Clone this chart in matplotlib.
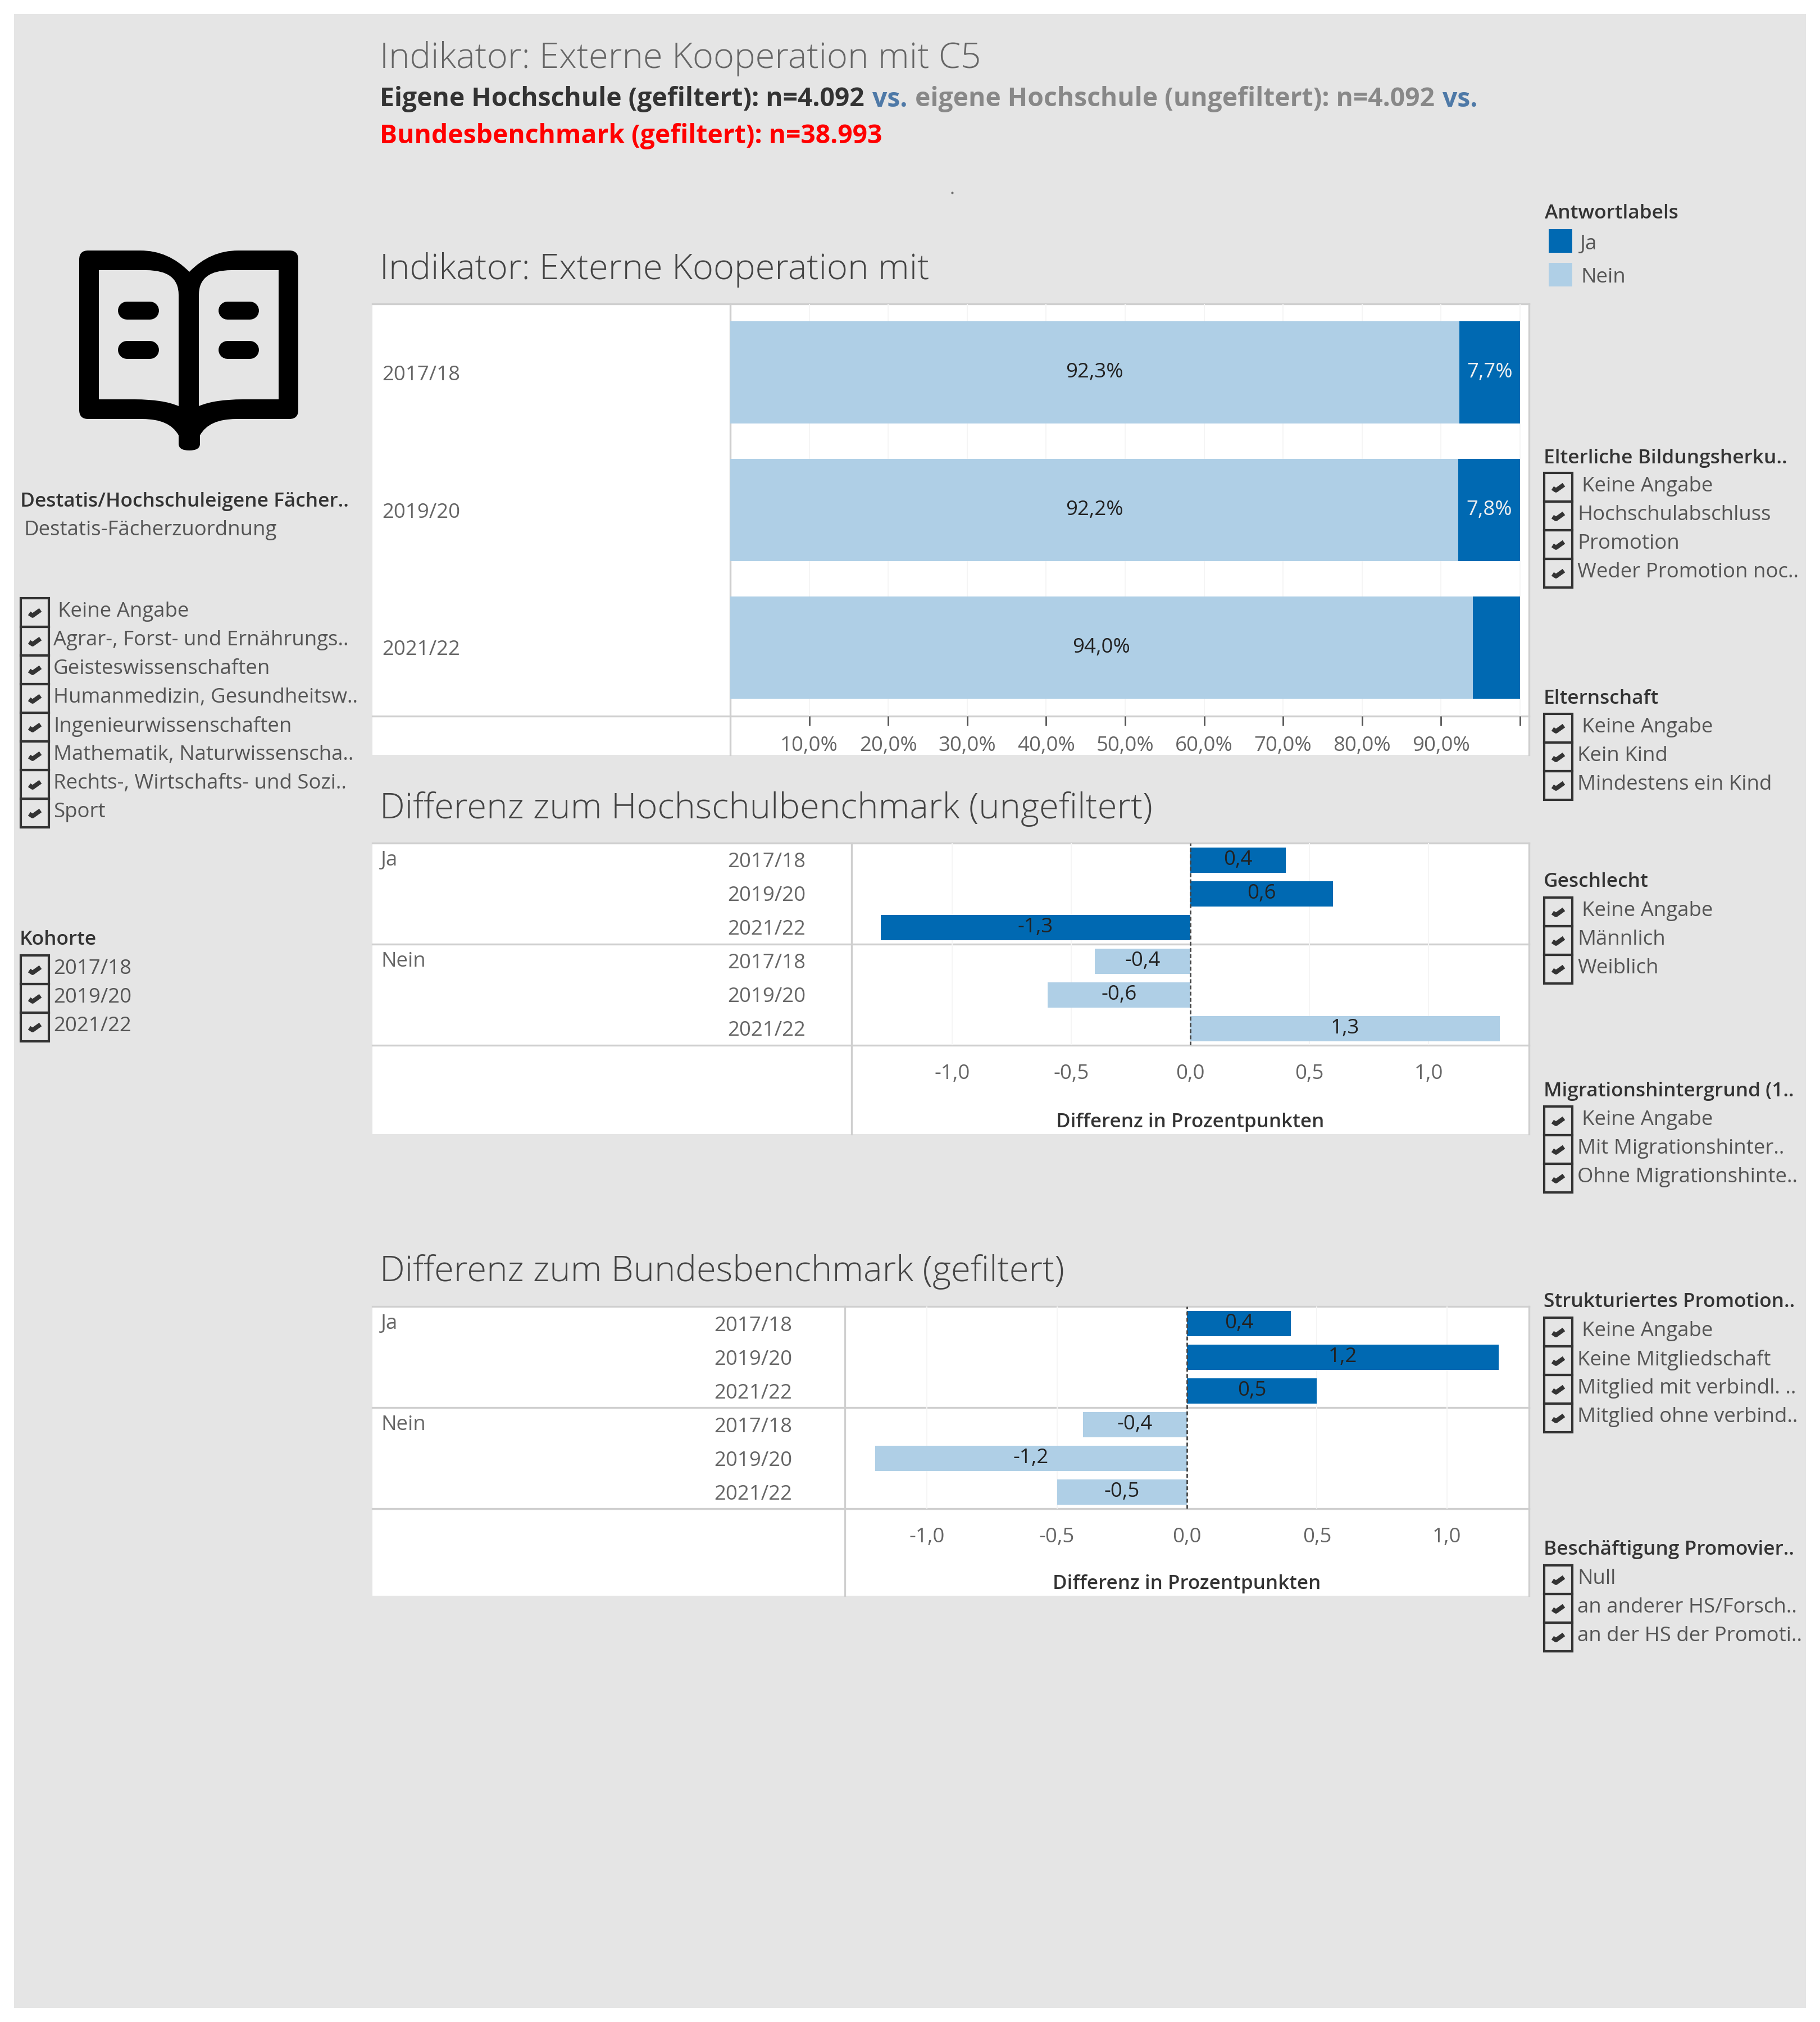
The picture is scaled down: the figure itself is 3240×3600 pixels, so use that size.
import matplotlib
matplotlib.use("Agg")
import matplotlib.pyplot as plt
from matplotlib.patches import Rectangle, PathPatch
from matplotlib.path import Path

W, H = 3240, 3600
plt.rcParams['font.family'] = ['Open Sans', 'DejaVu Sans']

# colours
BG = '#e5e5e5'
DARK = '#0069b2'
LIGHT = '#afcfe6'
LINE = '#cfcfcf'
TXT = '#666666'
FS = 13.2
FS_HEAD = 12.7

# data
years = ['2017/18', '2019/20', '2021/22']
nein = [92.3, 92.2, 94.0]
ja = [7.7, 7.8, 6.0]
nein_labels = ['92,3%', '92,2%', '94,0%']
ja_labels = ['7,7%', '7,8%', '']
pct_ticks = [10, 20, 30, 40, 50, 60, 70, 80, 90, 100]
pct_labels = ['10,0%', '20,0%', '30,0%', '40,0%', '50,0%', '60,0%', '70,0%', '80,0%', '90,0%', '']

answers = ['Ja', 'Nein']
diff_hs_ja = [0.4, 0.6, -1.3]
diff_hs_nein = [-0.4, -0.6, 1.3]
diff_bund_ja = [0.4, 1.2, 0.5]
diff_bund_nein = [-0.4, -1.2, -0.5]
diff_ticks = [-1.0, -0.5, 0.0, 0.5, 1.0]
diff_labels = ['-1,0', '-0,5', '0,0', '0,5', '1,0']

subjects = ['Keine Angabe', 'Agrar-, Forst- und Ernährungs..', 'Geisteswissenschaften',
            'Humanmedizin, Gesundheitsw..', 'Ingenieurwissenschaften',
            'Mathematik, Naturwissenscha..', 'Rechts-, Wirtschafts- und Sozi..', 'Sport']
herkunft = ['Keine Angabe', 'Hochschulabschluss', 'Promotion', 'Weder Promotion noc..']
elternschaft = ['Keine Angabe', 'Kein Kind', 'Mindestens ein Kind']
geschlecht = ['Keine Angabe', 'Männlich', 'Weiblich']
migration = ['Keine Angabe', 'Mit Migrationshinter..', 'Ohne Migrationshinte..']
struktur = ['Keine Angabe', 'Keine Mitgliedschaft', 'Mitglied mit verbindl. ..', 'Mitglied ohne verbind..']
beschaeftigung = ['Null', 'an anderer HS/Forsch..', 'an der HS der Promoti..']


def add_px_axes(fig, left, top, right, bottom):
    return fig.add_axes([left / W, 1 - bottom / H, (right - left) / W, (bottom - top) / H])


fig = plt.figure(figsize=(W / 200, H / 200), dpi=200, facecolor='white')
bg = fig.add_axes([0, 0, 1, 1])
bg.set_xlim(0, W)
bg.set_ylim(H, 0)
bg.axis('off')
bg.add_patch(Rectangle((25, 25), 3190, 3550, fc=BG, ec='none'))


def label(x, y, s, size=FS, color=TXT, weight='normal', **kw):
    # small downward nudge, Open Sans sits a bit high with va=center
    return bg.text(x - 2, y + 3, s, fontsize=size, color=color, fontweight=weight, va='center', ha=kw.pop('ha', 'left'), **kw)


def filter_list(x_box, x_text, x_first, y_top, items, header=None, y_header=None, x_header=None):
    if header:
        label(x_header, y_header, header, size=FS_HEAD, color='#333333', weight='semibold')
    for i, item in enumerate(items):
        y = y_top + i * 51
        bg.add_patch(Rectangle((x_box, y), 50, 51, fc='none', ec='#333333', lw=1.5))
        cx, cy = x_box + 25, y + 26
        bg.plot([cx - 10, cx - 4, cx + 10], [cy + 1, cy + 5, cy - 5], color='#333333', lw=2.8, solid_capstyle='butt')
        tx = x_first if item == 'Keine Angabe' else x_text
        label(tx, y + 21, item, color='#555555')


def draw_panel(left, top, axis_y, bottom, plot_left, panel_right=2722):
    bg.add_patch(Rectangle((left, top), panel_right - left, bottom - top, fc='white', ec='none'))
    for y in [top, axis_y]:
        bg.plot([left, panel_right], [y, y], color=LINE, lw=1.2)
    bg.plot([plot_left, plot_left], [top, bottom], color=LINE, lw=1.2)
    bg.plot([panel_right, panel_right], [top, bottom], color=LINE, lw=1.2)


# headline with mixed colours
label(678, 102, 'Indikator: Externe Kooperation mit C5', size=22.8, color='#666666', weight='light')
x = 678
for s, c in [('Eigene Hochschule (gefiltert): n=4.092', '#333333'), ('vs.', '#4e79a7'),
             ('eigene Hochschule (ungefiltert): n=4.092', '#888888'), ('vs.', '#4e79a7')]:
    t = label(x, 174, s, size=16.65, color=c, weight='bold')
    fig.canvas.draw()
    bb = t.get_window_extent()
    x += bb.width + 14
label(678, 240, 'Bundesbenchmark (gefiltert): n=38.993', size=16.65, color='#ff0000', weight='bold')
bg.plot([1695], [343], marker='.', ms=1, color='#666666')

label(678, 477, 'Indikator: Externe Kooperation mit', size=22.8, color='#444444', weight='light')
label(678, 1438, 'Differenz zum Hochschulbenchmark (ungefiltert)', size=22.8, color='#444444', weight='light')
label(678, 2262, 'Differenz zum Bundesbenchmark (gefiltert)', size=22.8, color='#444444', weight='light')

# book icon
verts = [(141, 462), (141, 446), (157, 446), (250, 446), (300, 446), (337, 484),
         (374, 446), (424, 446), (515, 446), (531, 446), (531, 462), (531, 730), (531, 746), (515, 746),
         (420, 746), (372, 746), (356, 775), (356, 790), (356, 802), (337, 802), (318, 802), (318, 790), (318, 775), (302, 746), (254, 746),
         (157, 746), (141, 746), (141, 730), (141, 462)]
codes = [Path.MOVETO, Path.CURVE3, Path.CURVE3, Path.LINETO, Path.CURVE3, Path.CURVE3,
         Path.CURVE3, Path.CURVE3, Path.LINETO, Path.CURVE3, Path.CURVE3, Path.LINETO, Path.CURVE3, Path.CURVE3,
         Path.LINETO, Path.CURVE3, Path.CURVE3, Path.LINETO, Path.CURVE3, Path.CURVE3, Path.CURVE3, Path.CURVE3, Path.LINETO, Path.CURVE3, Path.CURVE3,
         Path.LINETO, Path.CURVE3, Path.CURVE3, Path.CLOSEPOLY]
bg.add_patch(PathPatch(Path(verts, codes), fc='black', ec='none'))
left_page = [(176, 481), (260, 481), (318, 481), (318, 525), (318, 723), (290, 711), (240, 711), (176, 711), (176, 481)]
right_page = [(354, 525), (354, 481), (412, 481), (496, 481), (496, 711), (432, 711), (382, 711), (354, 723), (354, 525)]
page_codes_l = [Path.MOVETO, Path.LINETO, Path.CURVE3, Path.CURVE3, Path.LINETO, Path.CURVE3, Path.CURVE3, Path.LINETO, Path.CLOSEPOLY]
page_codes_r = [Path.MOVETO, Path.CURVE3, Path.CURVE3, Path.LINETO, Path.LINETO, Path.LINETO, Path.CURVE3, Path.CURVE3, Path.CLOSEPOLY]
bg.add_patch(PathPatch(Path(left_page, page_codes_l), fc=BG, ec='none'))
bg.add_patch(PathPatch(Path(right_page, page_codes_r), fc=BG, ec='none'))
for px0, px1 in [(226, 267), (405, 445)]:
    for py in [553, 623]:
        bg.plot([px0, px1], [py, py], color='black', lw=11.5, solid_capstyle='round')

# left filters
label(38, 890, 'Destatis/Hochschuleigene Fächer..', size=FS_HEAD, color='#333333', weight='semibold')
label(44, 941, 'Destatis-Fächerzuordnung', color='#555555')
filter_list(37, 97, 105, 1065, subjects)
filter_list(37, 97, 105, 1701, years, 'Kohorte', 1670, 37)

# legend and right filters
label(2752, 377, 'Antwortlabels', size=FS_HEAD, color='#333333', weight='semibold')
bg.add_patch(Rectangle((2757, 408), 42, 42, fc=DARK, ec='none'))
bg.add_patch(Rectangle((2757, 468), 42, 42, fc=LIGHT, ec='none'))
label(2815, 432, answers[0], color='#555555')
label(2816, 491, answers[1], color='#555555')
filter_list(2749, 2810, 2818, 842, herkunft, 'Elterliche Bildungsherku..', 813, 2750)
filter_list(2749, 2810, 2818, 1271, elternschaft, 'Elternschaft', 1241, 2750)
filter_list(2749, 2810, 2818, 1598, geschlecht, 'Geschlecht', 1567, 2750)
filter_list(2749, 2810, 2818, 1970, migration, 'Migrationshintergrund (1..', 1940, 2750)
filter_list(2749, 2810, 2818, 2346, struktur, 'Strukturiertes Promotion..', 2315, 2750)
filter_list(2749, 2810, 2818, 2787, beschaeftigung, 'Beschäftigung Promovier..', 2756, 2750)

# panel 1, stacked bars
draw_panel(663, 541, 1275, 1344, 1300)
ax = add_px_axes(fig, 1300, 541, 2722, 1275)
ax.patch.set_alpha(0)
ypos = list(range(len(years)))
ax.barh(ypos, nein, height=0.744, color=LIGHT)
ax.barh(ypos, ja, left=nein, height=0.744, color=DARK)
ax.set_xlim(0, 101.14)
ax.set_ylim(2.5, -0.5)
ax.set_xticks(pct_ticks, pct_labels, fontsize=FS, color=TXT)
ax.set_yticks(ypos, years, fontsize=FS, color=TXT, ha='left')
ax.tick_params(axis='y', length=0, pad=223)
ax.tick_params(axis='x', length=6, width=1, color='#555555', pad=6.5)
ax.grid(axis='x', color='#f5f5f5', lw=0.7)
ax.set_axisbelow(True)
for s in ax.spines.values():
    s.set_visible(False)
for i in ypos:
    ax.text(nein[i] / 2, i, nein_labels[i], ha='center', va='center', fontsize=FS, color='#222222')
    ax.text(nein[i] + ja[i] / 2, i, ja_labels[i], ha='center', va='center', fontsize=FS, color='#f0f0f0')


def diff_panel(top, axis_y, bottom, plot_left, xlim, ja_vals, nein_vals, label_px_right):
    draw_panel(663, top, axis_y, bottom, plot_left)
    bg.plot([663, 2722], [(top + axis_y) / 2] * 2, color=LINE, lw=1.2)
    ax = add_px_axes(fig, plot_left, top, 2722, axis_y)
    ax.patch.set_alpha(0)
    vals = ja_vals + nein_vals
    cols = [DARK] * 3 + [LIGHT] * 3
    pos = list(range(6))
    ax.barh(pos, vals, height=0.75, color=cols)
    ax.axvline(0, color='#444444', lw=1, ls=(0, (2.5, 1.5)))
    ax.set_xlim(*xlim)
    ax.set_ylim(5.5, -0.5)
    ax.set_xticks(diff_ticks, diff_labels, fontsize=FS, color=TXT)
    ax.set_yticks(pos, years * 2, fontsize=FS, color=TXT)
    ax.tick_params(axis='y', length=0, pad=(plot_left - label_px_right) * 0.36)
    ax.tick_params(axis='x', length=0, pad=12)
    ax.grid(axis='x', color='#f5f5f5', lw=0.7)
    ax.set_axisbelow(True)
    for s in ax.spines.values():
        s.set_visible(False)
    for i, v in enumerate(vals):
        ax.text(v / 2, i, f'{v:.1f}'.replace('.', ','), ha='center', va='center', fontsize=FS, color='#222222')
    x0 = ax.transData.transform((0, 0))[0]
    bg.text(x0, bottom - 21, 'Differenz in Prozentpunkten', ha='center', va='center', fontsize=FS_HEAD - 0.1,
            color='#333333', fontweight='semibold')
    label(680, top + 28, answers[0])
    label(680, (top + axis_y) / 2 + 28, answers[1])


diff_panel(1501, 1861, 2019, 1516, (-1.422, 1.422), diff_hs_ja, diff_hs_nein, 1434)
diff_panel(2326, 2686, 2841, 1504, (-1.316, 1.316), diff_bund_ja, diff_bund_nein, 1410)

fig.savefig('out.png', dpi=200, facecolor='white')
